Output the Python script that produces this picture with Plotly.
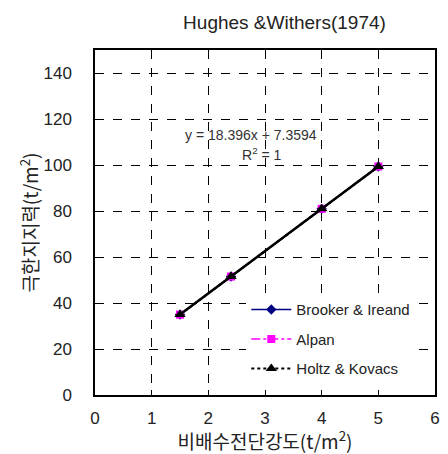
import plotly.graph_objects as go

# Undrained shear strength (t/m2) and ultimate bearing capacity (t/m2)
su = [1.5, 2.4, 4.0, 5.0]
brooker = [34.95, 51.51, 80.94, 99.34]
alpan = [34.95, 51.51, 80.94, 99.34]
holtz = [34.95, 51.51, 80.94, 99.34]
slope, intercept = 18.396, 7.3594

x_ticks = [0, 1, 2, 3, 4, 5, 6]
y_ticks = [0, 20, 40, 60, 80, 100, 120, 140]

FONT = "Liberation Sans, Arial, Noto Sans CJK KR, sans-serif"
KFONT = "Noto Sans CJK KR, Liberation Sans, sans-serif"
TXT = "#222222"

fig = go.Figure()

fig.add_trace(go.Scatter(
    x=su, y=brooker, name="Brooker & Ireand", mode="lines+markers",
    legendgroup="a",
    line=dict(color="#000080", width=1.5),
    marker=dict(symbol="diamond", size=8, color="#000080"),
))
fig.add_trace(go.Scatter(
    x=su, y=alpan, name="Alpan", mode="lines+markers",
    legendgroup="b",
    line=dict(color="#ff00ff", width=1.5, dash="dashdot"),
    marker=dict(symbol="square", size=8, color="#ff00ff"),
))
fig.add_trace(go.Scatter(
    x=su, y=holtz, name="Holtz & Kovacs", mode="lines+markers",
    legendgroup="c",
    line=dict(color="#000000", width=2, dash="dot"),
    marker=dict(symbol="triangle-up", size=10, color="#000000"),
))

# linear trendline
trend_x = [su[0], su[-1]]
trend_y = [slope * v + intercept for v in trend_x]
fig.add_trace(go.Scatter(
    x=trend_x, y=trend_y, mode="lines", showlegend=False,
    line=dict(color="#000000", width=2.5), hoverinfo="skip",
))

fig.add_annotation(x=2.75, y=113, xref="x", yref="y",
                   text=f"y = {slope}x + {intercept}", showarrow=False,
                   font=dict(family=FONT, size=14, color="#333333"))
fig.add_annotation(x=2.95, y=105, xref="x", yref="y",
                   text="R<sup>2</sup> = 1", showarrow=False,
                   font=dict(family=FONT, size=14, color="#333333"))

axis_common = dict(
    showline=True, linecolor="black", linewidth=1.5, mirror=True,
    showgrid=True, gridcolor="black", gridwidth=1, griddash="dash",
    zeroline=False, ticks="inside", ticklen=5, tickcolor="black",
    automargin=False,
    tickfont=dict(family=FONT, size=17, color=TXT),
)

fig.update_layout(
    width=448, height=454,
    margin=dict(l=95, r=13, t=50, b=59),
    paper_bgcolor="white", plot_bgcolor="white",
    title=dict(text="Hughes &Withers(1974)", x=0.635, xanchor="center",
               y=0.95, yanchor="middle",
               font=dict(family=FONT, size=19, color=TXT)),
    xaxis=dict(range=[0, 6], tickvals=x_ticks, ticklabelstandoff=7,
               **axis_common,
               title=dict(text="비배수전단강도(t/m<sup>2</sup>)", standoff=4,
                          font=dict(family=KFONT, size=19, color=TXT))),
    yaxis=dict(range=[0, 150], tickvals=y_ticks, ticklabelstandoff=18,
               **axis_common,
               title=dict(text="극한지지력(t/m<sup>2</sup>)", standoff=0,
                          font=dict(family=KFONT, size=19, color=TXT))),
    legend=dict(x=0.445, y=0.295, xanchor="left", yanchor="top",
                bgcolor="white", borderwidth=0,
                font=dict(family=FONT, size=15, color=TXT),
                tracegroupgap=7, itemwidth=40),
    showlegend=True,
)

fig.write_html("out.html")
